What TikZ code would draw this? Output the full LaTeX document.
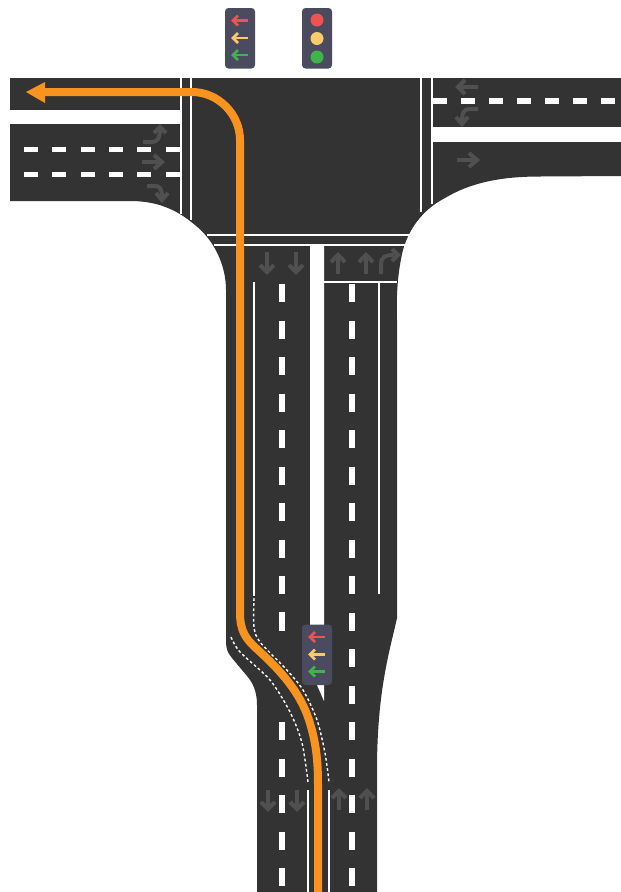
\documentclass[tikz,border=0pt]{standalone}
\definecolor{road}{HTML}{333333}
\definecolor{mark}{HTML}{505050}
\definecolor{route}{HTML}{F7931E}
\definecolor{housing}{HTML}{4A4B5F}
\definecolor{lred}{HTML}{EE5253}
\definecolor{lamber}{HTML}{FBCB6B}
\definecolor{lgreen}{HTML}{3DB54A}
\tikzset{
  x=1pt,y=-1pt,
  roadfill/.style={fill=road,draw=none},
  gapfill/.style={fill=white,draw=none},
  solidline/.style={draw=white,line width=2.4pt},
  dashv/.style={draw=white,line width=5.5pt},
  dashh/.style={draw=white,line width=5.5pt},
  dotline/.style={draw=white,line width=1.4pt,dash pattern=on 2.8pt off 2.4pt},
  roadarrow/.style={draw=mark,line width=4pt},
  housingbox/.style={fill=housing,draw=none,rounded corners=3.5pt},
  routeline/.style={draw=route,line width=8pt},
  pics/upmark/.style={code={
    \draw[roadarrow] (0,10)--(0,-8);
    \draw[roadarrow] (-7,-2)--(0,-9)--(7,-2);
  }},
  pics/arrowlamp/.style={code={
    \draw[draw=#1,line width=2.6pt] (8,0)--(-6,0);
    \draw[draw=#1,line width=2.6pt] (-2,-5)--(-7,0)--(-2,5);
  }},
}
\newcommand{\arrowsignal}[2]{%
  \fill[housingbox] (#1,#2) rectangle ++(30,60.5);
  \path (#1+15,#2+12.5) pic {arrowlamp=lred};
  \path (#1+15,#2+30) pic {arrowlamp=lamber};
  \path (#1+15,#2+47) pic {arrowlamp=lgreen};
}
\begin{document}
\begin{tikzpicture}
\useasboundingbox (0,0) rectangle (621,892);
\fill[white] (0,0) rectangle (621,892);
% road surface
\fill[roadfill] (10,78) -- (621,78) -- (621,176) -- (540,176.5)
  .. controls (500,176.5) and (470,183) .. (445,198)
  .. controls (420,211) and (408,232) .. (403,250)
  .. controls (398,270) and (396,295) .. (397,320)
  -- (397,618)
  .. controls (390,650) and (377,690) .. (377,770)
  -- (377,892) -- (257,892) -- (257,705)
  .. controls (257,690) and (252,682) .. (247,676)
  -- (232,658) .. controls (228,653) and (226,650) .. (226,640)
  -- (226,290)
  .. controls (226,265) and (214,240) .. (195,225)
  .. controls (175,208) and (155,201) .. (130,201)
  -- (10,201) -- cycle;
% gaps between carriageways
\fill[gapfill] (10,110) rectangle (180,124);
\fill[gapfill] (431,127) rectangle (621,142);
\fill[gapfill] (310,246) -- (324,246) -- (324,701) -- (317,685) -- (310,675) -- cycle;
% stop and cross lines
\draw[solidline] (181,78) -- (181,214);
\draw[solidline] (191.2,78) -- (191.2,220);
\draw[solidline] (421,78) -- (421,212);
\draw[solidline] (432,78) -- (432,204);
\draw[solidline] (207,235) -- (411,235);
\draw[solidline] (214,245) -- (406,245);
\draw[solidline] (324,282) -- (397,282);
% lane lines
\draw[solidline] (254,282) -- (254,596);
\draw[solidline] (379,282) -- (379,594);
\draw[solidline] (308,790) -- (308,892);
\draw[solidline] (329,790) -- (329,892);
% dashes
\foreach \i in {0,...,5} \draw[dashh] (24+28.3*\i,149.5) -- ++(14,0);
\foreach \i in {0,...,5} \draw[dashh] (24+28.3*\i,174.5) -- ++(14,0);
\foreach \i in {0,...,6} \draw[dashh] (433+28*\i,101) -- ++(14,0);
\foreach \i in {0,...,9} \draw[dashv] (282,284+36.5*\i) -- ++(0,18);
\foreach \i in {12,...,16} \draw[dashv] (282,284+36.5*\i) -- ++(0,18);
\draw[dashv] (282,612) -- ++(0,18);
\draw[dashv] (282,576) -- ++(0,18);
\foreach \i in {0,...,16} \draw[dashv] (352,284+36.5*\i) -- ++(0,18);
% dotted edges of the shifted lane
\draw[dotline] plot[smooth] coordinates {(254,598) (254,627) (260,642) (285,668) (303,690) (317,720) (325,753) (329,782)};
\draw[dotline] plot[smooth] coordinates {(231,637) (240,652) (270,680) (290,712) (302,743) (308,782)};
% road markings
\draw[roadarrow] (143,142) -- (151,142) .. controls (158,142) and (160,138) .. (160,129);
\draw[roadarrow] (154,133) -- (160,127) -- (166,133);
\draw[roadarrow] (142,162) -- (161,162);
\draw[roadarrow] (154,155) -- (162,162) -- (154,169);
\draw[roadarrow] (147,186) -- (155,186) .. controls (160,186) and (162,189) .. (162,198);
\draw[roadarrow] (156,193) -- (162,200) -- (168,193);
\draw[roadarrow] (478,87) -- (458,87);
\draw[roadarrow] (465,80) -- (458,87) -- (465,94);
\draw[roadarrow] (478,109) -- (470,109) .. controls (464,109) and (462,112) .. (462,122);
\draw[roadarrow] (456,117) -- (462,124) -- (468,117);
\draw[roadarrow] (457,160) -- (476,160);
\draw[roadarrow] (469,153) -- (477,160) -- (469,167);
\draw[roadarrow] (267,252) -- (267,272);
\draw[roadarrow] (260,265) -- (267,272) -- (274,265);
\draw[roadarrow] (296,252) -- (296,272);
\draw[roadarrow] (289,265) -- (296,272) -- (303,265);
\path (338,264) pic {upmark};
\path (366,264) pic {upmark};
\draw[roadarrow] (381,274) -- (381,264) .. controls (381,258) and (384,255) .. (394,255);
\draw[roadarrow] (392,249) -- (398,255) -- (392,261);
\draw[roadarrow] (268,790) -- (268,809);
\draw[roadarrow] (261,802) -- (268,809) -- (275,802);
\draw[roadarrow] (297,790) -- (297,809);
\draw[roadarrow] (290,802) -- (297,809) -- (304,802);
\path (339,800) pic {upmark};
\path (367,800) pic {upmark};
% route
\draw[routeline] (44,92) -- (192,92) .. controls (218,92) and (240,114) .. (240,140)
  -- (240,612) .. controls (240,632) and (246,639) .. (258,650)
  .. controls (280,670) and (300,692) .. (309,720)
  .. controls (316,742) and (318,760) .. (318,785) -- (318,892);
\fill[route] (26,92) -- (45,82) -- (45,103) -- cycle;
% signals
\arrowsignal{225}{8}
\fill[housingbox] (302,8) rectangle ++(30,60.5);
\fill[lred] (317,20) circle (6.5);
\fill[lamber] (317,38.5) circle (6.5);
\fill[lgreen] (317,57) circle (6.5);
\arrowsignal{302}{624.5}
\end{tikzpicture}
\end{document}
